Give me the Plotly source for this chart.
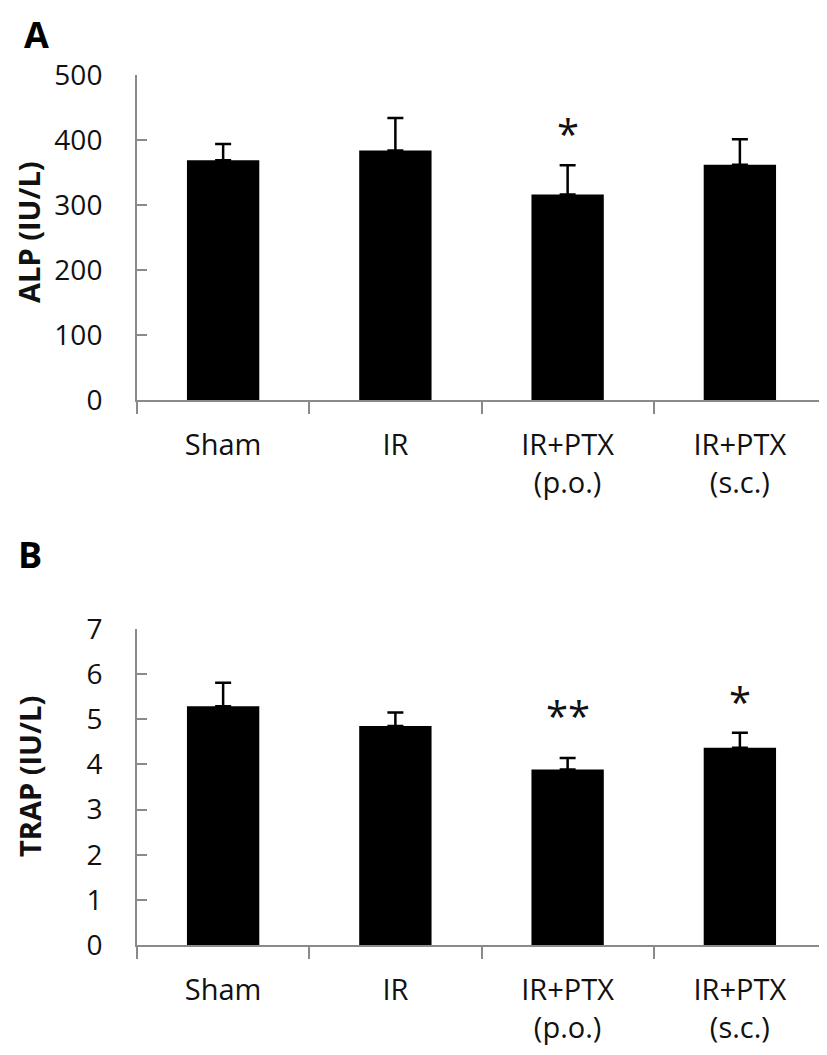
import plotly.graph_objects as go
from plotly.subplots import make_subplots

categories = ["Sham", "IR", "IR+PTX<br>(p.o.)", "IR+PTX<br>(s.c.)"]

alp_mean = [369, 384, 316, 362]
alp_sd = [25, 50, 45, 39]
alp_sig = ["", "", "*", ""]

trap_mean = [5.29, 4.85, 3.89, 4.37]
trap_sd = [0.52, 0.30, 0.25, 0.33]
trap_sig = ["", "", "**", "*"]

FONT = "Open Sans"
AXIS_GRAY = "#8a8a8a"
OFF = 8                      # page body margin in the browser
W, H = 827 - OFF, 1055 - OFF
L, R = 137 - OFF, 9 - OFF


def py(v):
    """screen pixel y -> figure pixel y"""
    return v - OFF


fig = make_subplots(rows=2, cols=1)

for row, mean, sd in [(1, alp_mean, alp_sd), (2, trap_mean, trap_sd)]:
    fig.add_trace(
        go.Bar(
            x=categories, y=mean, width=0.42,
            marker=dict(color="black", line=dict(width=0)),
            error_y=dict(type="data", symmetric=False, array=sd,
                         arrayminus=[0] * len(sd), color="black",
                         thickness=2.5, width=8),
            showlegend=False,
        ),
        row=row, col=1,
    )

xcommon = dict(
    showline=True, linecolor=AXIS_GRAY, linewidth=2,
    ticks="outside", ticklen=12, tickwidth=2, tickcolor=AXIS_GRAY,
    tickson="boundaries", showgrid=False, zeroline=False,
    tickfont=dict(family=FONT, size=29, color="#111111"),
    ticklabelstandoff=18, domain=[0, 1], automargin=False,
)
ycommon = dict(
    showline=True, linecolor=AXIS_GRAY, linewidth=2,
    ticks="inside", ticklen=10, tickwidth=2, tickcolor=AXIS_GRAY,
    showgrid=False, zeroline=False,
    tickfont=dict(family=FONT, size=28, color="#111111"),
    ticklabelstandoff=27, automargin=False,
)
fig.update_xaxes(**xcommon)
fig.update_yaxes(**ycommon)
fig.update_yaxes(range=[0, 500], dtick=100,
                 domain=[1 - py(400) / H, 1 - py(75) / H], row=1, col=1)
fig.update_yaxes(range=[0, 7], dtick=1,
                 domain=[1 - py(945) / H, 1 - py(629) / H], row=2, col=1)

pw = W - L - R
annotations = []
# significance markers
for xref, yref, mean, sd, sig in [("x", "y", alp_mean, alp_sd, alp_sig),
                                   ("x2", "y2", trap_mean, trap_sd, trap_sig)]:
    for c, m, s, t in zip(categories, mean, sd, sig):
        if t:
            annotations.append(dict(
                x=c, y=m + s, xref=xref, yref=yref, text=t, showarrow=False,
                yanchor="bottom", yshift=2 + 11 * (len(t) - 1),
                font=dict(family=FONT, size=40, color="#111111"),
            ))

# y-axis titles
annotations.append(dict(
    text="<b>ALP (IU/L)</b>", textangle=-90, showarrow=False,
    xref="paper", yref="y domain", x=(28 - 137) / pw, y=(400 - 232) / 325,
    xanchor="center", yanchor="middle",
    font=dict(family=FONT, size=29, color="#111111"),
))
annotations.append(dict(
    text="<b>TRAP (IU/L)</b>", textangle=-90, showarrow=False,
    xref="paper", yref="y2 domain", x=(29 - 137) / pw, y=(945 - 777) / 316,
    xanchor="center", yanchor="middle",
    font=dict(family=FONT, size=29, color="#111111"),
))
# panel letters
annotations.append(dict(
    text="<b>A</b>", showarrow=False,
    xref="paper", yref="paper", x=(36 - 137) / pw, y=1,
    xanchor="center", yanchor="top",
    font=dict(family=FONT, size=36, color="black"),
))
annotations.append(dict(
    text="<b>B</b>", showarrow=False,
    xref="paper", yref="paper", x=(30 - 137) / pw, y=1 - py(554) / H,
    xanchor="center", yanchor="middle",
    font=dict(family=FONT, size=36, color="black"),
))

fig.update_layout(
    width=W, height=H,
    margin=dict(l=L, r=R, t=0, b=0, autoexpand=False),
    paper_bgcolor="white", plot_bgcolor="white",
    bargap=0.58,
    annotations=annotations,
)

fig.write_html("out.html")
